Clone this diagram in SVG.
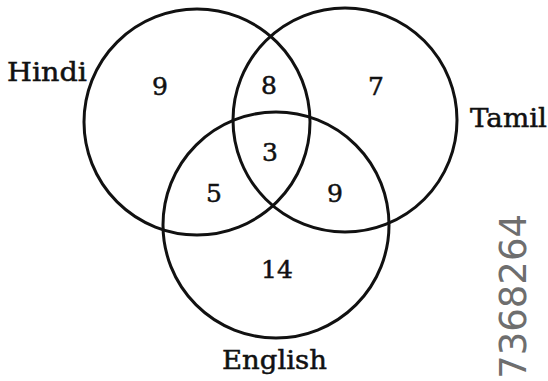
<svg xmlns="http://www.w3.org/2000/svg" width="548" height="381" viewBox="0 0 548 381">
<style>
.c{fill:none;stroke:#111;stroke-width:3}
.lbl{font-family:"DejaVu Serif","Liberation Serif",serif;font-size:26px;fill:#111;stroke:#111;stroke-width:0.5}
.num{font-family:"DejaVu Serif","Liberation Serif",serif;font-size:25px;fill:#111;stroke:#111;stroke-width:0.5;text-anchor:middle}
.wm{font-family:"DejaVu Sans","Liberation Sans",sans-serif;font-size:37px;fill:#555;opacity:0.85}
</style>
<rect width="548" height="381" fill="#fff"/>
<g id="hindi">
<circle class="c" cx="197" cy="122" r="113"/>
<text class="lbl" x="7" y="81" textLength="80" lengthAdjust="spacingAndGlyphs">Hindi</text>
</g>
<g id="tamil">
<circle class="c" cx="345" cy="120" r="112"/>
<text class="lbl" x="470" y="127" textLength="77" lengthAdjust="spacingAndGlyphs">Tamil</text>
</g>
<g id="english">
<circle class="c" cx="276" cy="225" r="113"/>
<text class="lbl" x="222" y="369" textLength="105" lengthAdjust="spacingAndGlyphs">English</text>
</g>
<g id="values">
<text class="num" x="160" y="95">9</text>
<text class="num" x="269" y="94">8</text>
<text class="num" x="376" y="95">7</text>
<text class="num" x="270" y="161">3</text>
<text class="num" x="214" y="202">5</text>
<text class="num" x="335" y="202">9</text>
<text class="num" x="277" y="278">14</text>
</g>
<g id="connectors"></g>
<text class="wm" transform="translate(526,214) rotate(-90)" text-anchor="end">7368264</text>
</svg>
